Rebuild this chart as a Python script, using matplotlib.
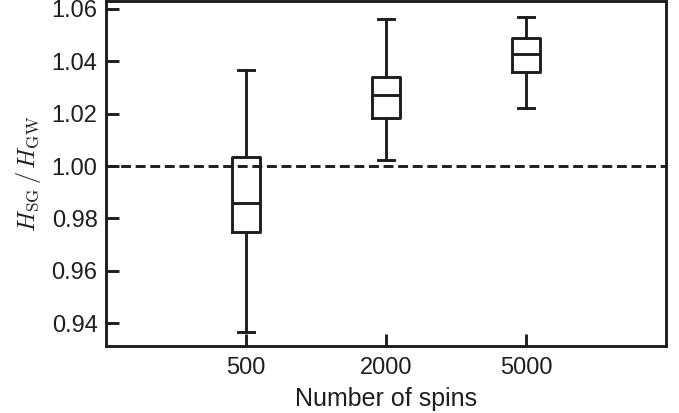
import matplotlib.pyplot as plt

plt.rcParams['font.family'] = ['Liberation Sans', 'DejaVu Sans']
plt.rcParams['mathtext.fontset'] = 'cm'

labels = ['500', '2000', '5000']
whislo = [0.9369, 1.0023, 1.0222]
q1 = [0.9748, 1.0184, 1.0358]
med = [0.9860, 1.0270, 1.0428]
q3 = [1.0034, 1.0340, 1.0487]
whishi = [1.0367, 1.0561, 1.0570]

stats = []
for i in range(len(labels)):
    stats.append(dict(label=labels[i], whislo=whislo[i], q1=q1[i], med=med[i],
                      q3=q3[i], whishi=whishi[i], fliers=[]))

fig = plt.figure(figsize=(6.79, 4.13), dpi=100)
ax = fig.add_axes([0.156, 0.163, 0.825, 0.835])

lw = 2.1
ink = '#1e1e1e'
props = dict(color=ink, linewidth=lw)
ax.bxp(stats, positions=[1, 2, 3], widths=0.2, capwidths=0.12,
       boxprops=props, whiskerprops=props, capprops=props,
       medianprops=props, showfliers=False)

# reference line at ratio 1
ax.axhline(1.0, color=ink, linestyle=(0, (3.4, 1.6)), linewidth=lw, zorder=0)

ax.set_xlim(0, 4)
ax.set_ylim(0.9315, 1.063)
ax.set_yticks([0.94, 0.96, 0.98, 1.00, 1.02, 1.04, 1.06])
ax.set_yticklabels(['0.94', '0.96', '0.98', '1.00', '1.02', '1.04', '1.06'])
ax.set_xticks([1, 2, 3])
ax.set_xticklabels(labels)

ax.tick_params(direction='in', length=9, width=lw, labelsize=17, pad=6, colors=ink)
ax.tick_params(axis='x', pad=8)
for s in ax.spines.values():
    s.set_linewidth(lw)
    s.set_color(ink)

ax.set_xlabel('Number of spins', fontsize=18, labelpad=6, color=ink)
ax.set_ylabel(r'$H_{\rm SG}\,/\,H_{\rm GW}$', fontsize=17.5, labelpad=6, color=ink)

fig.savefig('out.png', dpi=100)
